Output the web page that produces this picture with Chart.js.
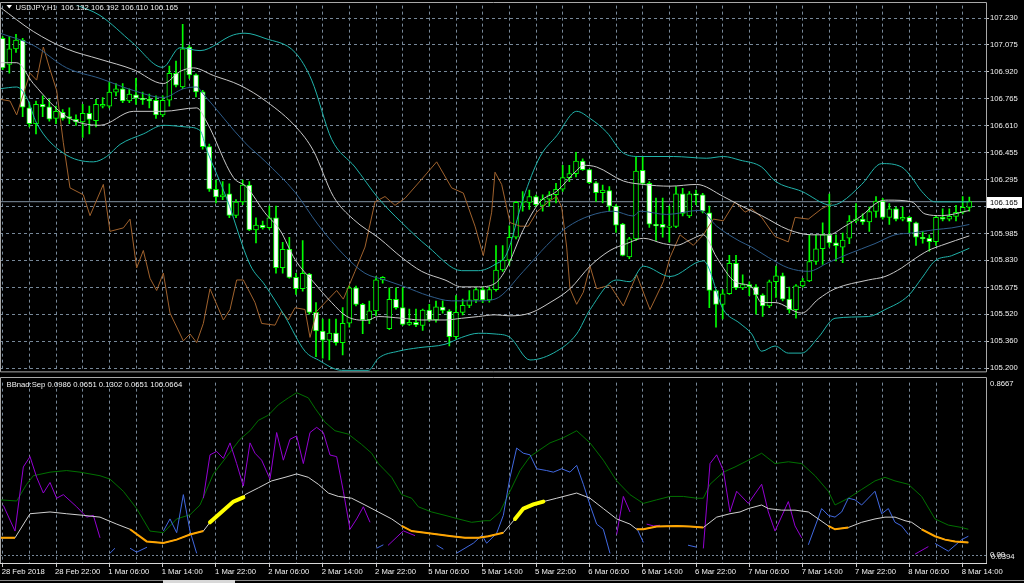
<!DOCTYPE html>
<html><head><meta charset="utf-8">
<script src="https://cdn.jsdelivr.net/npm/chart.js@4/dist/chart.umd.min.js"></script>
<style>
html,body{margin:0;padding:0;background:#000;width:1024px;height:583px;overflow:hidden}
#main{position:absolute;left:0;top:0}
#sub{position:absolute;left:0;top:377px}
#tabline{position:absolute;left:0;top:580px;width:1024px;height:1px;background:#8a8a8a}
#tab{position:absolute;left:163px;top:580px;width:72px;height:3px;background:#d8d8d8}
</style></head><body>
<canvas id="main" width="1024" height="377"></canvas>
<canvas id="sub" width="1024" height="206"></canvas>
<div id="tabline"></div><div id="tab"></div>
<script>
// ---------- DATA ----------
const symbolTitle = 'USDJPY,H1  106.132 106.192 106.110 106.165';
const subTitle = 'BBnad:Sep 0.0986 0.0651 0.1302 0.0651 106.0664';
const timeLabels = ['28 Feb 2018','28 Feb 22:00','1 Mar 06:00','1 Mar 14:00','1 Mar 22:00','2 Mar 06:00','2 Mar 14:00','2 Mar 22:00','5 Mar 06:00','5 Mar 14:00','5 Mar 22:00','6 Mar 06:00','6 Mar 14:00','6 Mar 22:00','7 Mar 06:00','7 Mar 14:00','7 Mar 22:00','8 Mar 06:00','8 Mar 14:00'];
const priceTickValues = [105.200,105.356,105.512,105.668,105.825,105.981,106.137,106.293,106.449,106.605,106.762,106.918,107.074,107.230];
const priceTickLabels = ['105.200','105.360','105.520','105.675','105.830','105.985','106.140','106.295','106.455','106.610','106.765','106.920','107.075','107.230'];
const bidPrice = 106.165;
const subMaxLabel = '0.8667', subMinLabel = '0.0394';

const opens = [107.112,106.961,107.051,107.102,106.709,106.618,106.729,106.715,106.648,106.683,
106.658,106.642,106.628,106.678,106.635,106.719,106.719,106.800,106.820,106.749,
106.785,106.765,106.759,106.753,106.668,106.753,106.910,106.830,107.062,106.900,
106.802,106.484,106.237,106.192,106.211,106.086,106.163,106.262,106.002,106.029,
106.014,106.072,105.782,105.889,105.726,105.661,105.745,105.523,105.415,105.362,
105.403,105.347,105.460,105.665,105.570,105.479,105.532,105.712,105.428,105.599,
105.551,105.453,105.466,105.447,105.536,105.479,105.554,105.530,105.382,105.523,
105.564,105.596,105.656,105.596,105.655,105.769,105.826,105.959,106.161,106.161,
106.195,106.143,106.180,106.205,106.237,106.305,106.328,106.400,106.351,106.275,
106.218,106.229,106.139,106.035,105.845,105.949,106.347,106.271,106.034,106.034,
106.016,106.021,106.211,106.082,106.211,106.205,106.101,105.650,105.570,105.631,
105.807,105.665,105.684,105.672,105.624,105.560,105.701,105.735,105.600,105.539,
105.677,105.705,105.818,105.892,105.973,105.926,105.902,105.953,106.053,106.064,
106.047,106.108,106.168,106.074,106.124,106.064,106.074,106.043,105.959,105.953,
105.933,106.074,106.064,106.080,106.104,106.132];
const highs = [107.122,107.122,107.136,107.112,106.739,106.749,106.779,106.759,106.719,106.699,
106.709,106.668,106.729,106.719,106.759,106.769,106.860,106.850,106.850,106.820,
106.880,106.800,106.789,106.779,106.779,106.951,106.981,107.193,107.072,106.906,
106.811,106.499,106.290,106.281,106.268,106.177,106.290,106.281,106.072,106.053,
106.139,106.139,105.930,105.959,105.750,105.940,105.750,105.580,105.485,105.485,
105.485,105.551,105.675,105.675,105.575,105.589,105.731,105.731,105.665,105.665,
105.665,105.542,105.542,105.542,105.570,105.589,105.590,105.540,105.620,105.600,
105.650,105.665,105.670,105.670,105.911,105.911,106.025,106.167,106.224,106.233,
106.203,106.205,106.224,106.271,106.376,106.376,106.451,106.413,106.353,106.281,
106.262,106.252,106.148,106.040,105.958,106.423,106.427,106.281,106.186,106.186,
106.139,106.252,106.243,106.224,106.233,106.214,106.139,105.656,105.656,105.854,
105.854,105.741,105.700,105.685,105.630,105.711,105.791,105.751,105.670,105.685,
105.721,105.973,105.973,106.043,106.209,105.973,105.983,106.084,106.154,106.094,
106.134,106.195,106.185,106.154,106.134,106.134,106.080,106.047,105.995,105.973,
106.080,106.124,106.124,106.144,106.195,106.192];
const lows = [106.931,106.910,107.031,106.658,106.598,106.558,106.658,106.632,106.618,106.638,
106.618,106.608,106.537,106.558,106.598,106.709,106.709,106.779,106.739,106.739,
106.729,106.729,106.709,106.648,106.658,106.719,106.830,106.820,106.880,106.773,
106.470,106.224,106.158,106.177,106.072,106.072,106.148,105.997,105.926,106.006,
106.006,105.750,105.750,105.722,105.627,105.646,105.513,105.267,105.258,105.248,
105.333,105.276,105.438,105.561,105.400,105.457,105.504,105.693,105.423,105.542,
105.447,105.447,105.440,105.419,105.470,105.466,105.519,105.328,105.368,105.509,
105.550,105.580,105.580,105.583,105.646,105.760,105.797,105.949,106.110,106.120,
106.138,106.110,106.139,106.158,106.224,106.281,106.309,106.347,106.269,106.167,
106.158,106.110,105.987,105.850,105.835,105.940,106.262,106.016,105.940,105.959,
105.930,106.015,106.082,106.072,106.148,106.100,105.551,105.438,105.485,105.627,
105.655,105.655,105.620,105.513,105.499,105.550,105.610,105.590,105.519,105.489,
105.670,105.701,105.801,105.801,105.902,105.822,105.812,105.922,106.043,106.033,
105.993,106.074,106.064,106.033,106.054,106.054,105.983,105.912,105.925,105.878,
105.912,106.054,106.054,106.054,106.094,106.110];
const closes = [106.941,107.051,107.102,106.713,106.618,106.729,106.715,106.644,106.689,106.648,
106.648,106.628,106.678,106.642,106.729,106.729,106.800,106.820,106.749,106.789,
106.765,106.757,106.750,106.668,106.753,106.910,106.840,107.051,106.900,106.802,
106.484,106.237,106.192,106.205,106.086,106.163,106.262,106.002,106.029,106.014,
106.072,105.782,105.889,105.726,105.661,105.750,105.523,105.415,105.362,105.403,
105.347,105.460,105.665,105.570,105.479,105.532,105.712,105.726,105.599,105.551,
105.453,105.466,105.450,105.536,105.479,105.555,105.534,105.382,105.523,105.564,
105.596,105.656,105.596,105.656,105.769,105.826,105.959,106.161,106.167,106.195,
106.148,106.180,106.205,106.237,106.305,106.328,106.400,106.351,106.275,106.218,
106.233,106.139,106.029,105.854,105.949,106.343,106.271,106.034,106.025,106.016,
106.024,106.211,106.097,106.211,106.203,106.110,105.650,105.570,105.631,105.807,
105.665,105.684,105.672,105.625,105.560,105.701,105.735,105.600,105.539,105.677,
105.705,105.818,105.892,105.973,105.926,105.910,105.943,106.053,106.064,106.047,
106.108,106.168,106.074,106.124,106.064,106.074,106.047,105.959,105.950,105.933,
106.074,106.064,106.080,106.104,106.132,106.165];

// main-panel indicator lines: [bar, price]
const tealUpper = [[-0.4,107.50],[10.5,107.314],[14.6,107.245],[19.5,107.086],[24,106.944],[26.6,107.058],[29.6,107.041],[34.6,107.132],[36.35,107.142],[39.35,107.112],[43.85,107.031],[46.35,106.870],[49.35,106.527],[52.85,106.366],[56.35,106.185],[59.85,106.044],[63.85,105.902],[68.85,105.765],[71.35,105.765],[73.85,105.801],[75.6,105.862],[78.1,106.185],[80.6,106.426],[83.1,106.547],[86.1,106.689],[88.1,106.648],[90.6,106.568],[93.1,106.447],[95.6,106.427],[100.6,106.427],[105.6,106.417],[108.1,106.427],[110.6,106.406],[113.85,106.366],[115.85,106.285],[119.85,106.225],[124.35,106.144],[125.85,106.164],[128.85,106.265],[131.85,106.386],[134.85,106.366],[136.35,106.306],[137.85,106.225],[139.85,106.164],[145,106.164]];
const tealLower = [[-0.4,106.820],[2.1,106.830],[3.6,106.769],[5.1,106.620],[9.1,106.447],[13.6,106.396],[15.6,106.427],[17.6,106.497],[21.1,106.558],[24.1,106.608],[27.6,106.598],[29.6,106.578],[30.6,106.467],[33.6,106.185],[37.1,105.800],[39.35,105.681],[42.35,105.499],[45.35,105.298],[47.35,105.247],[50.85,105.187],[54.85,105.187],[56.35,105.257],[59.35,105.298],[62.35,105.318],[66.35,105.338],[68.85,105.378],[71.35,105.402],[73.85,105.398],[76.1,105.378],[79.1,105.247],[83.1,105.298],[86.1,105.398],[88.1,105.539],[92.1,105.711],[94.1,105.701],[96.1,105.791],[100.1,105.731],[105.1,105.822],[108.1,105.539],[110.6,105.459],[112.35,105.398],[113.85,105.298],[115.85,105.328],[117.85,105.287],[119.85,105.287],[122.35,105.378],[124.85,105.489],[129.85,105.499],[132.35,105.539],[135.85,105.620],[137.85,105.721],[139.85,105.822],[142.35,105.852],[145,105.895]];
const whiteUpper = [[-0.4,107.293],[4.6,107.152],[9.6,107.051],[14.6,106.991],[19.6,106.931],[24.1,106.850],[26.6,106.920],[28.6,106.941],[31.6,106.897],[35.6,106.840],[39.6,106.745],[44.1,106.594],[46.6,106.461],[49.6,106.196],[52.6,106.063],[56.6,105.949],[59.85,105.842],[62.85,105.761],[66.35,105.711],[68.85,105.671],[71.35,105.671],[73.85,105.691],[75.6,105.781],[78.1,106.003],[80.6,106.164],[83.1,106.225],[86.1,106.346],[87.1,106.376],[89.1,106.366],[93.1,106.285],[96.1,106.265],[100.1,106.255],[104.1,106.265],[108.1,106.195],[110.6,106.144],[113.85,106.084],[117.85,106.003],[121.35,105.973],[123.85,105.973],[126.35,106.023],[128.85,106.084],[131.35,106.164],[132.85,106.174],[136.35,106.164],[138.35,106.094],[140.85,106.084],[145,106.114]];
const middleBand = [[-0.4,107.142],[4.6,107.072],[9.6,106.941],[14.6,106.880],[19.6,106.810],[24.1,106.769],[27.1,106.820],[29.1,106.830],[30.1,106.789],[36.35,106.507],[39.35,106.400],[43.85,106.220],[47.35,106.030],[51.35,105.850],[54.35,105.750],[57.35,105.711],[60.35,105.671],[63.85,105.620],[67.35,105.590],[71.35,105.590],[73.85,105.600],[78.1,105.761],[81.6,105.911],[84.6,106.015],[88.1,106.084],[91.6,106.110],[94.6,106.082],[95.6,106.110],[99.6,106.091],[104.6,106.115],[107.1,106.023],[110.6,105.935],[112.35,105.902],[114.85,105.842],[117.85,105.781],[120.85,105.761],[123.85,105.812],[126.85,105.862],[130.85,105.922],[133.85,105.973],[136.35,105.983],[139.85,106.003],[142.35,106.013],[145,106.033]];
const whiteLower = [[-0.4,106.971],[2.1,106.971],[4.6,106.850],[9.6,106.658],[14.6,106.608],[19.6,106.689],[24.1,106.689],[29.1,106.709],[30.6,106.628],[34.6,106.306],[36.6,106.250],[39.35,106.100],[41.6,106.000],[43.85,105.830],[46.6,105.700],[49.35,105.580],[51.6,105.500],[54.6,105.477],[56.35,105.499],[59.85,105.489],[62.85,105.479],[66.35,105.479],[68.85,105.489],[71.35,105.499],[73.85,105.509],[76.1,105.503],[79.1,105.519],[82.1,105.580],[85.1,105.660],[88.1,105.791],[91.1,105.882],[93.6,105.922],[96.1,105.953],[99.1,105.922],[101.1,105.912],[103.1,105.943],[105.1,105.973],[107.1,105.842],[109.85,105.701],[112.35,105.671],[113.85,105.580],[115.85,105.580],[119.85,105.519],[122.35,105.600],[124.85,105.660],[129.85,105.711],[132.35,105.731],[134.85,105.781],[136.35,105.822],[138.85,105.882],[140.85,105.912],[145,105.967]];
const brownLine = [[-0.4,106.759],[1.1,106.749],[2.1,106.668],[4.1,106.910],[5.1,106.870],[6.1,107.062],[7.1,106.931],[8.1,106.810],[9.1,106.507],[10.1,106.245],[12.1,106.205],[13.1,106.084],[15.1,106.265],[16.1,105.993],[18.1,106.013],[19.1,106.064],[20.1,105.781],[21.1,105.882],[22.1,105.721],[23.1,105.650],[24.1,105.751],[25.1,105.519],[27.1,105.358],[28.1,105.398],[29.1,105.348],[30.1,105.459],[31.1,105.660],[33.1,105.479],[34.1,105.539],[35.1,105.711],[36.1,105.711],[37.85,105.580],[38.85,105.459],[40.85,105.449],[41.85,105.529],[42.85,105.479],[43.85,105.550],[45.35,105.540],[46.1,105.378],[47.1,105.529],[50.1,105.650],[51.1,105.600],[52.85,105.761],[54.35,105.902],[55.85,106.164],[57.35,106.195],[58.85,106.144],[60.35,106.185],[62.85,106.295],[65.1,106.396],[67.35,106.245],[69.1,106.215],[70.85,106.023],[72.1,105.852],[73.35,106.104],[73.85,106.336],[74.85,106.265],[76.1,106.044],[77.6,106.023],[78.85,106.023],[80.1,106.104],[81.85,106.164],[83.1,106.195],[83.85,106.134],[84.6,105.902],[85.1,105.660],[86.1,105.570],[87.1,105.640],[88.1,105.791],[89.1,105.660],[91.1,105.681],[93.1,105.560],[95.1,105.741],[97.1,105.539],[99.1,105.701],[100.1,105.842],[101.6,105.973],[103.6,105.912],[105.1,105.973],[106.6,106.064],[108.1,106.054],[109.85,106.164],[111.35,106.104],[112.35,106.124],[113.85,106.074],[115.85,105.963],[117.85,105.932],[118.85,106.074],[120.85,106.064],[122.85,106.124],[124.35,106.154]];

// sub-panel (BBnad:Sep) lines: [bar, value]
const sepGreen = [[-0.4,0.278],[2.1,0.272],[3.6,0.356],[4.6,0.399],[7.1,0.417],[9.6,0.425],[11.6,0.417],[14.6,0.399],[16.1,0.382],[18.1,0.321],[20.1,0.234],[22.1,0.121],[24.1,0.113],[26.1,0.182],[28.1,0.203],[29.6,0.252],[31.6,0.408],[33.6,0.495],[35.6,0.582],[37.1,0.625],[38.35,0.677],[39.85,0.703],[41.35,0.755],[42.85,0.790],[44.1,0.816],[45.85,0.790],[46.85,0.738],[48.35,0.668],[49.85,0.625],[51.85,0.608],[53.85,0.556],[55.35,0.512],[56.35,0.460],[58.35,0.391],[59.85,0.304],[61.35,0.286],[62.35,0.243],[64.35,0.217],[66.35,0.200],[68.35,0.182],[70.35,0.165],[72.35,0.173],[73.1,0.173],[74.6,0.217],[76.1,0.321],[77.6,0.425],[79.1,0.495],[80.6,0.530],[82.1,0.564],[84.1,0.590],[86.1,0.625],[88.1,0.564],[90.1,0.477],[92.1,0.373],[94.1,0.304],[96.1,0.260],[98.1,0.278],[100.1,0.295],[102.1,0.295],[104.1,0.286],[105.1,0.286],[106.1,0.356],[108.1,0.417],[109.85,0.443],[111.85,0.477],[113.85,0.512],[115.85,0.460],[117.85,0.469],[119.85,0.460],[121.85,0.399],[123.85,0.321],[124.85,0.252],[126.85,0.286],[128.85,0.330],[130.85,0.373],[132.35,0.391],[133.85,0.373],[135.85,0.356],[137.85,0.295],[139.85,0.182],[141.85,0.151],[143.85,0.139],[144.85,0.130]];
const sepMain = [[-0.4,0.087],[1.85,0.087],[4.1,0.208],[7.1,0.217],[9.6,0.208],[12.1,0.200],[14.6,0.191],[17.1,0.156],[19.1,0.130],[21.6,0.069],[24.1,0.061],[26.1,0.078],[28.1,0.104],[30.1,0.121],[31.1,0.165],[34.6,0.269],[36.1,0.290],[36.35,0.304],[38.35,0.338],[40.35,0.373],[42.35,0.391],[44.1,0.408],[45.85,0.391],[47.35,0.356],[48.85,0.312],[50.35,0.295],[52.35,0.286],[54.35,0.252],[56.35,0.217],[58.35,0.182],[59.85,0.147],[61.35,0.121],[63.35,0.113],[65.35,0.104],[67.35,0.095],[69.35,0.087],[71.35,0.087],[72.85,0.095],[75.1,0.113],[76.85,0.182],[78.1,0.234],[79.6,0.255],[81.1,0.269],[83.1,0.286],[86.1,0.312],[88.1,0.286],[90.1,0.234],[92.1,0.182],[94.1,0.156],[95.1,0.130],[96.1,0.130],[98.1,0.144],[101.1,0.147],[103.1,0.144],[105.1,0.139],[107.1,0.191],[109.1,0.208],[110.6,0.217],[111.85,0.234],[113.85,0.252],[114.85,0.234],[116.85,0.226],[118.85,0.226],[120.85,0.217],[122.35,0.182],[123.85,0.147],[124.85,0.130],[126.85,0.139],[128.85,0.165],[130.85,0.182],[132.35,0.191],[133.85,0.191],[135.35,0.173],[136.35,0.165],[137.85,0.130],[139.85,0.095],[141.35,0.078],[142.85,0.069],[144.85,0.064]];
const orangeRanges = [[-0.4,1.85],[19.1,30.1],[59.85,75.1],[95.1,105.1],[123.85,126.85],[137.85,144.85]];
const yellowRanges = [[31.1,36.1],[76.85,81.1]];
const sepPurple = [
 [[0.1,0.25],[1.85,0.121],[3.1,0.443],[4.1,0.495],[5.1,0.391],[6.1,0.312],[7.1,0.365],[8.1,0.286],[9.1,0.304],[11.1,0.243],[12.6,0.191],[13.6,0.200],[14.6,0.087]],
 [[30.1,0.286],[31.1,0.504],[32.1,0.521],[33.1,0.486],[34.1,0.564],[35.1,0.460],[36.1,0.347],[37.1,0.564],[37.85,0.512],[38.85,0.477],[40.1,0.382],[41.1,0.616],[42.1,0.477],[43.1,0.582],[44.1,0.599],[45.1,0.460],[46.1,0.616],[47.1,0.642],[48.1,0.616],[49.1,0.503],[50.1,0.495],[51.1,0.321],[52.1,0.130],[53.1,0.182],[54.1,0.243],[55.1,0.165]],
 [[57.8,0.049],[60.1,0.122],[61.85,0.098]],
 [[92.1,0.104],[93.1,0.295],[94.1,0.217]],
 [[96.6,0.156],[97.6,0.147],[98.6,0.150]],
 [[105.1,0.034],[106.1,0.460],[107.1,0.504],[108.1,0.425],[109.1,0.217],[110.1,0.321],[111.85,0.260],[113.85,0.356],[114.85,0.217],[115.85,0.121],[117.85,0.269],[118.85,0.147],[119.85,0.087]],
 [[136.85,0.005],[138.85,0.043]]
];
const sepBlue = [
 [[16.1,0.010],[16.85,0.035]],
 [[19.1,0.035],[20.1,0.015],[21.65,0.040]],
 [[24.1,0.121],[25.1,0.182],[26.1,0.113],[27.1,0.304],[28.1,0.121],[29.1,0.009]],
 [[56.1,0.035],[57.1,0.052]],
 [[65.1,0.050],[66.1,0.030]],
 [[68.1,0.010],[70.6,0.060],[71.9,0.100],[72.6,0.060],[74.1,0.110],[75.1,0.200],[76.1,0.391],[77.1,0.538],[78.1,0.512],[79.1,0.504],[80.1,0.434],[81.6,0.425],[82.6,0.417],[83.85,0.434],[85.1,0.417],[86.1,0.451],[87.1,0.356],[88.1,0.252],[89.1,0.156],[90.1,0.130],[91.1,0.009]],
 [[95.1,0.137],[96.1,0.064]],
 [[102.8,0.050],[104.1,0.040]],
 [[120.85,0.052],[122.85,0.234],[123.85,0.200],[124.85,0.191],[125.85,0.217],[126.85,0.286],[127.85,0.278],[128.85,0.252],[130.85,0.321],[131.85,0.208],[132.85,0.234],[133.85,0.165],[134.85,0.147],[135.85,0.104]],
 [[139.85,0.059],[141.85,0.020],[143.9,0.079],[144.85,0.095]]
];

// ---------- RENDER ----------
const FONT = "'Liberation Sans', Arial, sans-serif";
const FS = 7.7;
const XMIN = -0.4, XMAX = 147.5;
const GRID = '#778899';
const FRAME = '#a8a8a8';
const TXT = '#f2f2f2';
const toXY = arr => arr.map(p => ({x: p[0], y: p[1]}));
const inRanges = (ranges) => ranges.map(r => toXY(sepMain.filter(p => p[0] >= r[0] - 1e-9 && p[0] <= r[1] + 1e-9)));
const lineDs = (pts, color, width, order, smooth) => ({
  type: 'line', data: toXY(pts), borderColor: color, borderWidth: width, pointRadius: 0,
  order: order, cubicInterpolationMode: smooth ? 'monotone' : 'default', tension: 0, fill: false
});

Chart.defaults.font.family = FONT;
Chart.defaults.font.size = FS;
Chart.defaults.color = TXT;

const xGridScale = (showLabels) => ({
  type: 'linear', min: XMIN, max: XMAX, offset: false,
  afterBuildTicks: s => { const t = []; for (let v = 0; v <= 144; v += 4) t.push({value: v}); s.ticks = t; },
  grid: { color: GRID, lineWidth: 1, offset: false, drawTicks: showLabels, tickLength: 4,
          tickColor: c => (c.tick && c.tick.value % 8 === 0) ? '#c8c8c8' : 'rgba(0,0,0,0)' },
  border: { display: false, dash: [3, 3] },
  ticks: { display: showLabels, autoSkip: false, maxRotation: 0, minRotation: 0, align: 'start',
           labelOffset: -1, padding: 0, color: TXT, font: {size: FS, family: FONT},
           callback: v => (v % 8 === 0) ? timeLabels[v / 8] : '' },
  afterFit: s => { s.height = showLabels ? 20 : 0; }
});

const mainPlugin = {
  id: 'mainDeco',
  afterDraw(chart) {
    const ctx = chart.ctx, a = chart.chartArea, ys = chart.scales.y;
    ctx.save();
    ctx.strokeStyle = FRAME; ctx.lineWidth = 1;
    ctx.beginPath();
    ctx.moveTo(0.5, 2.5); ctx.lineTo(a.right + 0.5, 2.5);
    ctx.lineTo(a.right + 0.5, a.bottom + 0.5); ctx.lineTo(0.5, a.bottom + 0.5); ctx.closePath();
    ctx.stroke();
    ctx.fillStyle = '#ffffff';
    ctx.beginPath(); ctx.moveTo(6.5, 5); ctx.lineTo(12, 5); ctx.lineTo(9.25, 8.5); ctx.closePath(); ctx.fill();
    ctx.fillStyle = TXT;
    ctx.font = FS + 'px ' + FONT; ctx.textBaseline = 'middle'; ctx.textAlign = 'left';
    ctx.fillText(symbolTitle, 15.5, 7.5);
    const py = Math.round(ys.getPixelForValue(bidPrice));
    ctx.fillStyle = '#ffffff';
    ctx.fillRect(a.right + 1, py - 5, 35, 11);
    ctx.fillStyle = '#000000';
    ctx.fillText(bidPrice.toFixed(3), a.right + 4, py + 0.5);
    ctx.restore();
  }
};

new Chart(document.getElementById('main'), {
  type: 'bar',
  data: { datasets: [
    lineDs(tealUpper, '#20b2aa', 1, 1, true),
    lineDs(tealLower, '#20b2aa', 1, 1, true),
    lineDs(whiteUpper, '#c8c8c8', 1, 1, true),
    lineDs(whiteLower, '#c8c8c8', 1, 1, true),
    lineDs(middleBand, '#2e5c8a', 1, 2, true),
    lineDs(brownLine, '#a0622d', 1, 3, false),
    { type: 'bar', order: 10, grouped: false, barThickness: 5,
      data: opens.map((o, i) => ({x: i, y: [o, closes[i]]})),
      backgroundColor: c => closes[c.dataIndex] < opens[c.dataIndex] ? '#ffffff' : '#000000',
      borderColor: '#00ff00', borderWidth: 1, borderSkipped: false },
    { type: 'bar', order: 11, grouped: false, barThickness: 1,
      data: lows.map((l, i) => ({x: i, y: [l, highs[i]]})),
      backgroundColor: '#00ff00', borderWidth: 0 },
    { type: 'line', order: 12, data: [{x: XMIN, y: bidPrice}, {x: XMAX, y: bidPrice}],
      borderColor: '#8090a0', borderWidth: 1, pointRadius: 0 }
  ]},
  options: {
    responsive: false, animation: false, devicePixelRatio: 1, events: [],
    layout: { padding: {top: 2, bottom: 2, left: 0, right: 0} },
    plugins: { legend: {display: false}, tooltip: {enabled: false} },
    scales: {
      x: xGridScale(false),
      y: { type: 'linear', position: 'right', min: 105.181, max: 107.302,
        afterBuildTicks: s => { s.ticks = priceTickValues.map(v => ({value: v})); },
        grid: { color: GRID, lineWidth: 1, drawTicks: true, tickLength: 3, tickColor: '#c8c8c8' },
        border: { display: false, dash: [3, 3] },
        ticks: { autoSkip: false, padding: 1, color: TXT, font: {size: FS, family: FONT},
                 callback: (v, i) => priceTickLabels[i] },
        afterFit: s => { s.width = 38; } }
    }
  },
  plugins: [mainPlugin]
});

const subPlugin = {
  id: 'subDeco',
  afterDraw(chart) {
    const ctx = chart.ctx, a = chart.chartArea;
    ctx.save();
    ctx.strokeStyle = FRAME; ctx.lineWidth = 1;
    ctx.beginPath();
    ctx.moveTo(0.5, 0.5); ctx.lineTo(a.right + 0.5, 0.5); ctx.lineTo(a.right + 0.5, a.bottom + 0.5);
    ctx.moveTo(0.5, 0.5); ctx.lineTo(0.5, a.bottom + 0.5);
    ctx.stroke();
    ctx.strokeStyle = '#d8d8d8';
    ctx.beginPath(); ctx.moveTo(0, a.bottom + 0.5); ctx.lineTo(a.right + 1, a.bottom + 0.5); ctx.stroke();
    ctx.font = FS + 'px ' + FONT; ctx.textBaseline = 'middle'; ctx.textAlign = 'left';
    ctx.fillStyle = TXT;
    ctx.fillText(subTitle, 6.5, 7.5);
    ctx.fillText(subMaxLabel, a.right + 4, 6.5);
    ctx.fillText(subMinLabel, a.right + 5, 180);
    ctx.restore();
  }
};

const subDatasets = [ lineDs(sepGreen, '#007000', 1, 5, false) ];
sepPurple.forEach(s => subDatasets.push(lineDs(s, '#9400d3', 1, 4, false)));
sepBlue.forEach(s => subDatasets.push(lineDs(s, '#4169e1', 1, 4, false)));
subDatasets.push(lineDs(sepMain, '#d0d0d0', 1, 3, false));
inRanges(orangeRanges).forEach(d => subDatasets.push({type: 'line', data: d, borderColor: '#ffa500', borderWidth: 2, pointRadius: 0, order: 2}));
inRanges(yellowRanges).forEach(d => subDatasets.push({type: 'line', data: d, borderColor: '#ffff00', borderWidth: 4, pointRadius: 0, order: 1, borderCapStyle: 'round'}));

new Chart(document.getElementById('sub'), {
  type: 'line',
  data: { datasets: subDatasets },
  options: {
    responsive: false, animation: false, devicePixelRatio: 1, events: [],
    layout: { padding: {top: 1, bottom: 0, left: 0, right: 0} },
    plugins: { legend: {display: false}, tooltip: {enabled: false} },
    scales: {
      x: xGridScale(true),
      y: { type: 'linear', position: 'right', min: -0.0394, max: 0.8667,
        afterBuildTicks: s => { s.ticks = [{value: 0}]; },
        grid: { color: GRID, lineWidth: 1, drawTicks: true, tickLength: 3, tickColor: 'rgba(0,0,0,0)' },
        border: { display: false, dash: [2, 2] },
        ticks: { autoSkip: false, padding: 1, color: TXT, font: {size: FS, family: FONT},
                 callback: v => '0.00' },
        afterFit: s => { s.width = 38; } }
    }
  },
  plugins: [subPlugin]
});
</script>
</body></html>
